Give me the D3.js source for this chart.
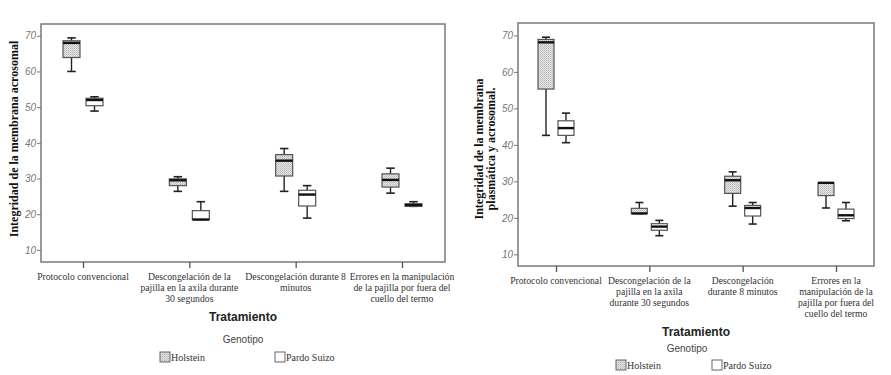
<!DOCTYPE html>
<html lang="es">
  <head>
    <meta charset="UTF-8" />
    <script src="https://d3js.org/d3.v7.min.js"></script>
    <style>
      body { margin: 0; background: #fff; }
      svg { display: block; }
    </style>
  </head>
  <body>
    <svg id="chart" width="891" height="375"></svg>
    <script>
      // categorias del eje x
      var categories = ["P", "D30", "D8", "E"];
      var yTicks = [10, 20, 30, 40, 50, 60, 70];

      // etiquetas (una linea por elemento)
      var labelsLeft = [
        ["Protocolo convencional"],
        ["Descongelación de la", "pajilla  en la axila durante", "30 segundos"],
        ["Descongelación durante 8", "minutos"],
        ["Errores en la manipulación", "de la pajilla  por fuera del", "cuello del termo"]
      ];
      var labelsRight = [
        ["Protocolo convencional"],
        ["Descongelación de la", "pajilla  en la axila", "durante 30 segundos"],
        ["Descongelación", "durante 8 minutos"],
        ["Errores en la", "manipulación de la", "pajilla  por fuera del", "cuello del termo"]
      ];

      // [min, q1, mediana, q3, max]
      var holsteinLeft = [
        [60.0, 63.9, 68.0, 68.6, 69.4],
        [26.4, 28.0, 29.5, 29.9, 30.5],
        [26.4, 30.7, 35.0, 36.7, 38.4],
        [25.9, 27.6, 29.6, 31.3, 32.9]
      ];
      var pardoLeft = [
        [48.9, 50.4, 52.0, 52.5, 52.9],
        [18.5, 18.5, 18.5, 21.0, 23.5],
        [18.9, 22.3, 25.5, 26.7, 28.0],
        [22.2, 22.2, 22.6, 22.9, 23.5]
      ];
      var holsteinRight = [
        [42.6, 55.3, 68.1, 68.9, 69.5],
        [21.2, 21.2, 21.2, 22.6, 24.2],
        [23.2, 26.7, 30.3, 31.4, 32.6],
        [22.7, 26.1, 29.6, 29.6, 29.6]
      ];
      var pardoRight = [
        [40.6, 42.6, 44.6, 46.6, 48.7],
        [15.1, 16.6, 17.6, 18.4, 19.3],
        [18.3, 20.5, 22.7, 23.4, 24.2],
        [19.2, 19.8, 20.7, 22.4, 24.2]
      ];

      var serif = "'Liberation Serif', 'DejaVu Serif', serif";
      var sans = "'Liberation Sans', Arial, sans-serif";
      var narrow = "'Liberation Sans Narrow', 'Liberation Sans', Arial, sans-serif";

      var svg = d3.select("#chart");

      // patron punteado para Holstein
      var defs = svg.append("defs");
      var pat = defs.append("pattern")
        .attr("id", "dots")
        .attr("width", 2).attr("height", 2)
        .attr("patternUnits", "userSpaceOnUse");
      pat.append("rect").attr("width", 2).attr("height", 2).attr("fill", "#e4e4e4");
      pat.append("rect").attr("width", 1).attr("height", 1).attr("fill", "#b8b8b8");
      pat.append("rect").attr("x", 1).attr("y", 1).attr("width", 1).attr("height", 1).attr("fill", "#c8c8c8");

      function drawPanel(cfg) {
        var g = svg.append("g");
        var y = d3.scaleLinear().domain(cfg.yDomain).range([cfg.bottom, cfg.top]);
        var x = d3.scalePoint().domain(categories).range(cfg.xRange);

        // marco
        g.append("rect")
          .attr("x", cfg.left).attr("y", cfg.top)
          .attr("width", cfg.right - cfg.left).attr("height", cfg.bottom - cfg.top)
          .attr("fill", "none").attr("stroke", "#7a7a7a").attr("stroke-width", 1.5);

        // eje y
        var yAxis = g.append("g")
          .attr("transform", "translate(" + cfg.left + ",0)")
          .call(d3.axisLeft(y).tickValues(yTicks).tickSize(4).tickPadding(1).tickFormat(d3.format("d")));
        yAxis.select(".domain").remove();
        yAxis.selectAll("line").attr("stroke", "#777");
        yAxis.selectAll("text")
          .attr("fill", "#777")
          .attr("font-family", sans)
          .attr("font-style", "italic")
          .attr("font-size", 10);

        // eje x
        var xAxis = g.append("g")
          .attr("transform", "translate(0," + cfg.bottom + ")")
          .call(d3.axisBottom(x).tickSize(6).tickFormat(""));
        xAxis.select(".domain").remove();
        xAxis.selectAll("line").attr("stroke", "#555").attr("stroke-width", 1.3);

        // etiquetas de categoria
        categories.forEach(function (c, i) {
          var t = g.append("text")
            .attr("font-family", serif)
            .attr("font-size", 9.7)
            .attr("fill", "#333")
            .attr("text-anchor", "middle")
            .attr("x", x(c))
            .attr("y", cfg.bottom + 18);
          cfg.labels[i].forEach(function (line, j) {
            t.append("tspan").attr("x", x(c)).attr("dy", j === 0 ? 0 : cfg.lineH).text(line);
          });
        });

        // cajas
        function drawBoxes(stats, offset, fill) {
          var bw = cfg.boxW;
          var bg = g.selectAll(null)
            .data(stats.map(function (s, i) { return { s: s, c: categories[i] }; }))
            .enter().append("g");
          // bigotes
          bg.append("line")
            .attr("x1", function (d) { return x(d.c) + offset; })
            .attr("x2", function (d) { return x(d.c) + offset; })
            .attr("y1", function (d) { return y(d.s[4]); })
            .attr("y2", function (d) { return y(d.s[0]); })
            .attr("stroke", "#222").attr("stroke-width", 1.4);
          [0, 4].forEach(function (k) {
            bg.append("line")
              .attr("x1", function (d) { return x(d.c) + offset - bw / 4; })
              .attr("x2", function (d) { return x(d.c) + offset + bw / 4; })
              .attr("y1", function (d) { return y(d.s[k]); })
              .attr("y2", function (d) { return y(d.s[k]); })
              .attr("stroke", "#222").attr("stroke-width", 1.6);
          });
          bg.append("rect")
            .attr("x", function (d) { return x(d.c) + offset - bw / 2; })
            .attr("y", function (d) { return y(d.s[3]); })
            .attr("width", bw)
            .attr("height", function (d) { return Math.max(0.5, y(d.s[1]) - y(d.s[3])); })
            .attr("fill", fill).attr("stroke", "#555").attr("stroke-width", 1.2);
          bg.append("line")
            .attr("x1", function (d) { return x(d.c) + offset - bw / 2; })
            .attr("x2", function (d) { return x(d.c) + offset + bw / 2; })
            .attr("y1", function (d) { return y(d.s[2]); })
            .attr("y2", function (d) { return y(d.s[2]); })
            .attr("stroke", "#111").attr("stroke-width", 2.4);
        }
        drawBoxes(cfg.holstein, -cfg.offset, "url(#dots)");
        drawBoxes(cfg.pardo, cfg.offset, "#fff");

        // titulo eje y
        var yt = g.append("text")
          .attr("font-family", serif)
          .attr("font-weight", "bold")
          .attr("font-size", 12)
          .attr("fill", "#111")
          .attr("text-anchor", "middle")
          .attr("transform", "translate(" + cfg.yTitleX + "," + cfg.yTitleY + ") rotate(-90)");
        cfg.yTitle.forEach(function (line, j) {
          yt.append("tspan").attr("x", 0).attr("dy", j === 0 ? 0 : 12).text(line);
        });

        // titulo eje x
        var cx = (cfg.left + cfg.right) / 2;
        g.append("text")
          .attr("font-family", narrow).attr("font-weight", "bold").attr("font-size", 12)
          .attr("fill", "#222").attr("text-anchor", "middle")
          .attr("x", cx).attr("y", cfg.xTitleY).text("Tratamiento");

        // leyenda
        g.append("text")
          .attr("font-family", sans).attr("font-size", 10).attr("fill", "#444")
          .attr("text-anchor", "middle")
          .attr("x", cfg.legTitleX).attr("y", cfg.legTitleY).text("Genotipo");
        var items = [
          { name: "Holstein", fill: "url(#dots)", x: cfg.legX[0] },
          { name: "Pardo Suizo", fill: "#fff", x: cfg.legX[1] }
        ];
        items.forEach(function (it) {
          g.append("rect").attr("x", it.x).attr("y", cfg.legY - 9)
            .attr("width", 10).attr("height", 10)
            .attr("fill", it.fill).attr("stroke", "#666").attr("stroke-width", 1);
          g.append("text")
            .attr("font-family", serif).attr("font-size", 10).attr("fill", "#333")
            .attr("x", it.x + 11).attr("y", cfg.legY).text(it.name);
        });
      }

      drawPanel({
        left: 41, right: 445, top: 24, bottom: 262,
        yDomain: [6.6, 73.3], xRange: [83, 402],
        boxW: 17, offset: 11.5, lineH: 11,
        labels: labelsLeft, holstein: holsteinLeft, pardo: pardoLeft,
        yTitle: ["Integridad de la membrana acrosomal"], yTitleX: 18, yTitleY: 139,
        xTitleY: 321, legTitleX: 243, legTitleY: 343, legX: [160, 275], legY: 361
      });

      drawPanel({
        left: 518, right: 874, top: 23, bottom: 266,
        yDomain: [6.8, 73.4], xRange: [556, 836],
        boxW: 16, offset: 10, lineH: 11,
        labels: labelsRight, holstein: holsteinRight, pardo: pardoRight,
        yTitle: ["Integridad de la membrana", "plasmática y acrosomal."], yTitleX: 483, yTitleY: 149,
        xTitleY: 336, legTitleX: 687, legTitleY: 352, legX: [616, 712], legY: 369
      });
    </script>
  </body>
</html>
